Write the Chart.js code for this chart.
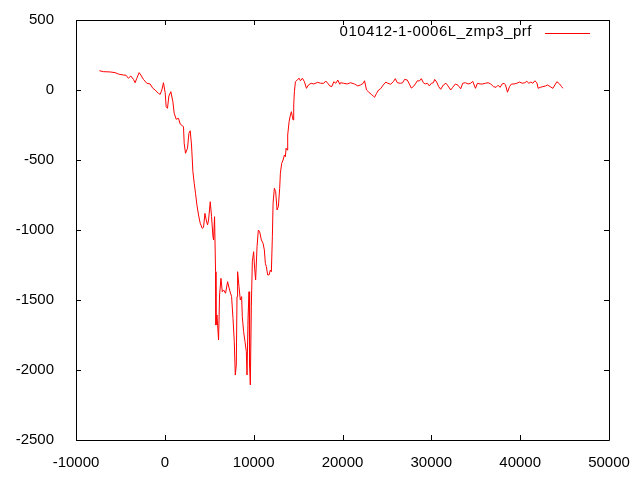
<!DOCTYPE html>
<html>
<head>
<meta charset="utf-8">
<script src="https://cdn.jsdelivr.net/npm/chart.js@4"></script>
<style>
  html, body { margin: 0; padding: 0; background: #fff; }
  #wrap { width: 640px; height: 480px; }
</style>
</head>
<body>
<div id="wrap"><canvas id="prf_chart" width="640" height="480"></canvas></div>
<script>
// series label and ticks
const seriesName = '010412-1-0006L_zmp3_prf';
const xTicks = [-10000, 0, 10000, 20000, 30000, 40000, 50000];
const yTicks = [-2500, -2000, -1500, -1000, -500, 0, 500];

// profile values
const xs = [
  -7372, -6921, -6165, -5602, -5229, -4666, -4361, -4102, -3831, -3538,
  -3346, -3154, -2895, -2703, -2410, -2027, -1654, -1350, -1090, -718,
  -526, -335, -154, 37, 150, 297, 455, 680, 906, 1052,
  1278, 1537, 1729, 2101, 2180, 2327, 2552, 2710, 2857, 3004,
  3161, 3308, 3455, 3613, 3793, 3985, 4210, 4357, 4515, 4661,
  4808, 4921, 5113, 5259, 5417, 5485, 5598, 5710, 5755, 5868,
  6049, 6162, 6319, 6466, 6613, 6838, 7064, 7289, 7515, 7673,
  7819, 7932, 8045, 8124, 8192, 8349, 8496, 8643, 8721, 8868,
  9026, 9173, 9252, 9365, 9477, 9545, 9624, 9737, 9850, 9996,
  10109, 10222, 10380, 10526, 10673, 10865, 11056, 11203, 11315, 11429,
  11575, 11733, 11879, 11992, 12105, 12184, 12331, 12477, 12635, 12782,
  12929, 13007, 13154, 13312, 13458, 13571, 13650, 13763, 13831, 13989,
  14135, 14248, 14360, 14440, 14507, 14586, 14699, 14891, 15117, 15263,
  15489, 15714, 15940, 16165, 16470, 16763, 17214, 17518, 17891, 18116,
  18342, 18567, 18793, 19019, 19244, 19470, 19696, 19774, 20147, 20530,
  20902, 21353, 21725, 22030, 22334, 22481, 22706, 22966, 23237, 23462,
  23609, 23834, 24060, 24285, 24590, 24883, 25109, 25413, 25718, 25944,
  26169, 26541, 26767, 26993, 27297, 27523, 27748, 27973, 28199, 28425,
  28650, 28876, 29102, 29327, 29553, 29778, 30004, 30229, 30376, 30601,
  30827, 31052, 31357, 31650, 31876, 32180, 32406, 32710, 33004, 33308,
  33534, 33838, 34131, 34435, 34661, 34966, 35191, 35484, 35789, 36094,
  36387, 36691, 36996, 37289, 37515, 37740, 37966, 38191, 38349, 38574,
  38800, 39026, 39319, 39624, 39928, 40222, 40526, 40752, 40977, 41203,
  41428, 41654, 41879, 42026, 42252, 42555, 42860, 43086, 43379, 43683,
  43909, 44135, 44439, 44665, 44812
];
const ys = [
  138, 131, 129, 124, 114, 107, 105, 84, 100, 76,
  52, 84, 124, 107, 76, 48, 43, 12, 0, -24,
  -31, 0, 52, -19, -119, -131, -43, -12, -84, -166,
  -209, -202, -243, -262, -381, -452, -416, -309, -291, -393,
  -584, -666, -738, -821, -893, -952, -988, -981, -881, -929,
  -964, -929, -798, -905, -1048, -1071, -905, -1298, -1679, -1607,
  -1786, -1464, -1345, -1441, -1429, -1452, -1369, -1429, -1476, -1631,
  -1798, -2036, -1964, -1476, -1298, -1405, -1500, -1476, -1619, -1726,
  -1798, -1869, -2036, -1631, -1441, -1976, -2107, -1548, -1226, -1155,
  -1274, -1357, -1119, -1000, -1012, -1071, -1095, -1143, -1238, -1262,
  -1321, -1321, -1286, -1298, -1048, -809, -702, -726, -857, -833,
  -702, -595, -524, -500, -464, -476, -416, -429, -321, -226,
  -179, -155, -191, -214, -107, -12, 59, 71, 84, 66,
  84, 59, 12, 36, 48, 43, 55, 48, 48, 64,
  48, 29, 24, 59, 48, 71, 41, 52, 48, 43,
  52, 43, 29, 36, 48, 66, 0, -16, -31, -43,
  -52, -24, 0, 9, 36, 57, 48, 41, 59, 81,
  52, 48, 52, 76, 71, 43, 14, 24, 43, 66,
  64, 81, 52, 43, 48, 29, 48, 52, 76, 57,
  24, 5, 36, 48, 29, 0, 19, 43, 34, 9,
  48, 52, 43, 48, 62, 12, 48, 43, 43, 48,
  52, 43, 24, 19, 34, 19, 43, 48, 36, -16,
  24, 43, 43, 48, 57, 48, 52, 62, 48, 57,
  48, 66, 52, 12, 19, 24, 29, 36, 24, 12,
  36, 59, 43, 24, 12
];

const points = xs.map((x, i) => ({ x: x, y: ys[i] }));
const fontFamily = '"Liberation Sans", Arial, sans-serif';

// gnuplot style frame: full border, inward ticks on all four sides, key at top right
const gnuFrame = {
  id: 'gnuFrame',
  afterDraw(chart) {
    const ctx = chart.ctx;
    const a = chart.chartArea;
    const xs_ = chart.scales.x, ys_ = chart.scales.y;
    const tl = 5;
    ctx.save();
    ctx.strokeStyle = '#000';
    ctx.lineWidth = 1;
    ctx.beginPath();
    ctx.rect(Math.round(a.left) + 0.5, Math.round(a.top) + 0.5,
             Math.round(a.right - a.left), Math.round(a.bottom - a.top));
    xTicks.forEach(v => {
      const p = Math.round(xs_.getPixelForValue(v)) + 0.5;
      ctx.moveTo(p, a.bottom); ctx.lineTo(p, a.bottom - tl);
      ctx.moveTo(p, a.top); ctx.lineTo(p, a.top + tl);
    });
    yTicks.forEach(v => {
      const p = Math.round(ys_.getPixelForValue(v)) + 0.5;
      ctx.moveTo(a.left, p); ctx.lineTo(a.left + tl, p);
      ctx.moveTo(a.right, p); ctx.lineTo(a.right - tl, p);
    });
    ctx.stroke();

    // key
    ctx.font = '15px ' + fontFamily;
    if ('letterSpacing' in ctx) ctx.letterSpacing = '0.5px';
    ctx.fillStyle = '#000';
    ctx.textAlign = 'right';
    ctx.textBaseline = 'middle';
    ctx.fillText(seriesName, 532, 32);
    ctx.strokeStyle = '#ff0000';
    ctx.beginPath();
    ctx.moveTo(545, 33.5); ctx.lineTo(590, 33.5);
    ctx.stroke();
    ctx.restore();
  }
};

new Chart(document.getElementById('prf_chart'), {
  type: 'scatter',
  data: {
    datasets: [{
      label: seriesName,
      data: points,
      showLine: true,
      borderColor: '#ff0000',
      backgroundColor: '#ff0000',
      borderWidth: 1,
      pointRadius: 0,
      tension: 0
    }]
  },
  options: {
    responsive: false,
    animation: false,
    layout: { padding: { top: 20, right: 31, left: 0, bottom: 0 } },
    plugins: {
      legend: { display: false },
      tooltip: { enabled: false }
    },
    scales: {
      x: {
        type: 'linear',
        min: -10000,
        max: 50000,
        afterBuildTicks: s => { s.ticks = xTicks.map(v => ({ value: v })); },
        afterFit: s => { s.height = 40; s.paddingLeft = 0; s.paddingRight = 0; },
        grid: { display: false },
        border: { display: false },
        ticks: {
          color: '#000',
          font: { family: fontFamily, size: 15 },
          padding: 6,
          maxRotation: 0,
          callback: v => String(v)
        }
      },
      y: {
        type: 'linear',
        min: -2500,
        max: 500,
        afterBuildTicks: s => { s.ticks = yTicks.map(v => ({ value: v })); },
        afterFit: s => { s.width = 76; s.paddingTop = 0; s.paddingBottom = 0; },
        grid: { display: false },
        border: { display: false },
        ticks: {
          color: '#000',
          font: { family: fontFamily, size: 15 },
          padding: 14,
          callback: v => String(v)
        }
      }
    }
  },
  plugins: [gnuFrame]
});
</script>
</body>
</html>
